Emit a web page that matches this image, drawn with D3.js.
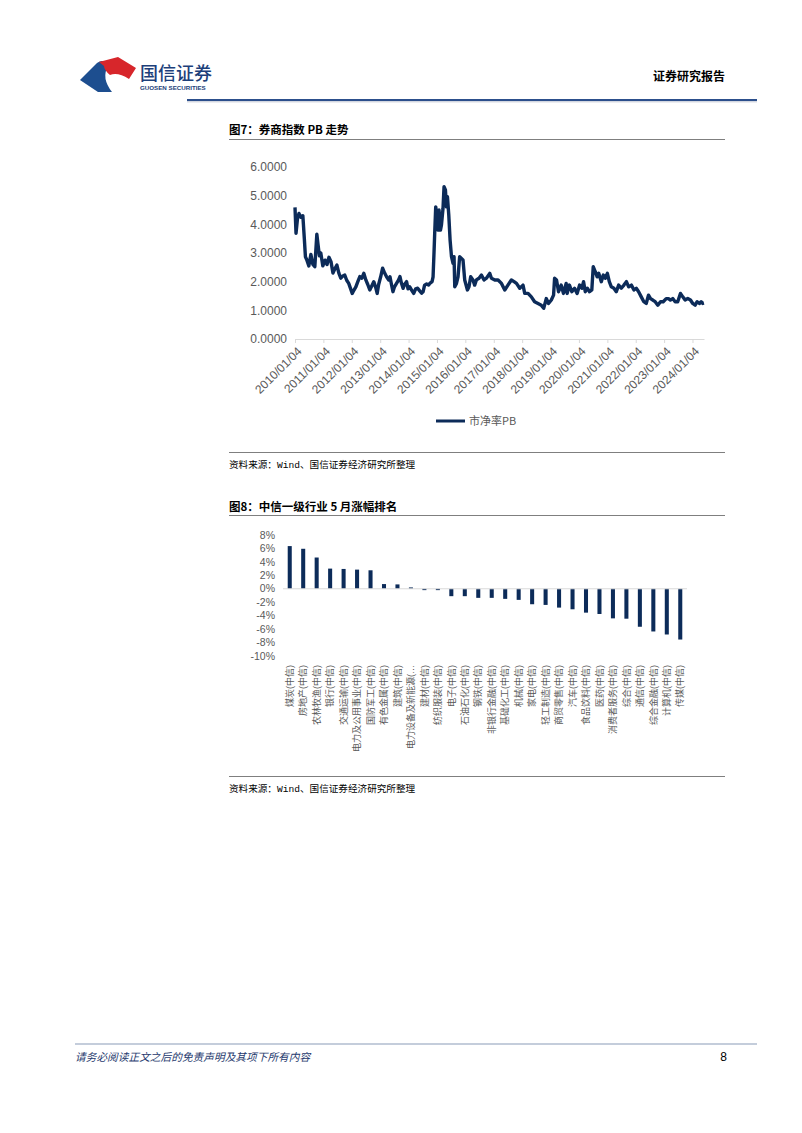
<!DOCTYPE html>
<html><head><meta charset="utf-8">
<script src="https://cdn.jsdelivr.net/npm/d3@7"></script>
<style>body{margin:0;background:#fff;} svg{display:block;}</style>
</head><body><svg id="c" width="802" height="1133"></svg>
<script>
const pbDates = ["2010-01-04","2010-01-17","2010-02-05","2010-02-24","2010-03-20","2010-04-15","2010-05-04","2010-05-18","2010-06-06","2010-07-01","2010-07-27","2010-08-22","2010-09-16","2010-10-12","2010-10-27","2010-11-14","2010-12-02","2010-12-28",
"2011-01-26","2011-02-20","2011-03-17","2011-04-12","2011-05-07","2011-06-01","2011-06-27","2011-07-22","2011-08-16","2011-09-11","2011-10-06","2011-10-31","2011-11-26","2011-12-21",
"2012-01-10","2012-01-31","2012-02-26","2012-03-22","2012-04-17","2012-05-13","2012-06-07","2012-07-03","2012-07-28","2012-08-23","2012-09-17","2012-10-13","2012-11-07","2012-11-26","2012-12-15",
"2013-01-10","2013-02-04","2013-03-02","2013-03-27","2013-04-22","2013-05-10","2013-05-29","2013-06-17","2013-07-07","2013-08-02","2013-08-27","2013-09-15","2013-10-04","2013-10-25","2013-11-13","2013-12-09","2013-12-28",
"2014-01-19","2014-02-14","2014-03-11","2014-04-05","2014-05-01","2014-05-27","2014-06-21","2014-07-10","2014-07-29","2014-08-24","2014-09-19","2014-10-04","2014-11-02","2014-11-15","2014-11-27","2014-12-06","2014-12-19",
"2015-01-05","2015-01-18","2015-01-31","2015-02-18","2015-03-03","2015-03-23","2015-04-05","2015-04-23","2015-05-06","2015-05-19","2015-06-05","2015-06-22","2015-07-10","2015-07-30","2015-08-12","2015-08-21","2015-09-12","2015-10-02","2015-10-23","2015-11-15","2015-12-05","2015-12-27",
"2016-01-31","2016-02-20","2016-03-13","2016-04-11","2016-05-03","2016-05-25","2016-06-28","2016-07-29","2016-09-01","2016-10-01","2016-11-13","2016-12-05",
"2017-01-17","2017-02-28","2017-04-13","2017-05-25","2017-07-05","2017-08-18","2017-09-22","2017-10-23","2017-12-04",
"2018-01-15","2018-02-06","2018-03-21","2018-05-02","2018-06-13","2018-07-27","2018-09-07","2018-10-08","2018-11-10","2018-12-09",
"2019-01-14","2019-02-12","2019-02-25","2019-03-22","2019-04-17","2019-05-21","2019-06-19","2019-07-24","2019-08-06","2019-09-04","2019-10-05","2019-11-09","2019-12-12",
"2020-01-13","2020-02-11","2020-03-04","2020-03-26","2020-04-21","2020-05-20","2020-06-18","2020-07-06","2020-08-01","2020-08-26","2020-09-15","2020-10-18","2020-11-13","2020-12-08",
"2021-01-04","2021-01-29","2021-02-24","2021-03-29","2021-04-29","2021-05-29","2021-07-02","2021-08-05","2021-09-06","2021-10-05","2021-11-09","2021-12-12",
"2022-01-11","2022-02-10","2022-03-16","2022-04-18","2022-05-19","2022-06-17","2022-07-13","2022-08-11","2022-09-11","2022-10-15","2022-11-19","2022-12-23",
"2023-01-31","2023-03-01","2023-03-26","2023-04-25","2023-05-26","2023-06-28","2023-08-02","2023-09-01","2023-10-01","2023-11-04","2023-12-09",
"2024-01-07","2024-02-07","2024-03-04","2024-04-02","2024-04-24","2024-05-14","2024-05-31"];
const pbValues = [4.59,3.69,4.20,4.38,4.25,4.30,3.50,2.87,2.75,2.55,2.95,2.60,2.52,3.66,3.30,2.90,3.00,2.55,
2.75,2.60,2.85,2.70,2.30,2.45,2.58,2.30,2.12,2.20,2.23,2.05,1.94,1.75,
1.59,1.70,1.82,2.00,2.18,2.12,2.29,2.06,1.90,1.71,1.85,2.00,1.80,1.59,1.90,
2.17,2.47,2.30,2.17,2.06,2.17,1.90,1.65,1.82,1.94,2.05,2.18,1.95,1.77,1.90,2.00,1.75,
1.82,1.70,1.59,1.75,1.77,1.68,1.60,1.65,1.88,1.92,1.88,1.94,2.00,2.17,3.00,3.69,4.61,
4.27,3.80,4.50,3.80,3.98,4.56,5.31,5.20,4.61,4.96,4.33,3.45,2.87,2.64,2.87,1.82,1.94,2.17,2.87,2.81,2.76,2.06,
1.71,1.82,2.17,2.06,1.88,2.06,2.12,2.23,2.06,2.12,2.29,2.12,
2.06,2.06,1.94,1.71,1.88,2.06,2.00,1.94,1.77,
1.88,1.59,1.59,1.47,1.30,1.24,1.18,1.07,1.41,1.24,
1.36,1.53,2.12,2.06,1.65,1.88,1.59,1.94,1.59,1.88,1.65,1.77,1.59,
1.88,1.77,2.00,1.65,1.77,1.65,1.71,2.52,2.35,2.17,2.29,2.00,2.23,2.12,
2.29,2.00,1.82,1.77,1.65,1.88,1.77,1.88,2.00,1.82,1.88,1.71,
1.77,1.65,1.47,1.30,1.24,1.53,1.41,1.36,1.30,1.18,1.30,1.30,
1.41,1.41,1.36,1.41,1.30,1.30,1.59,1.47,1.36,1.41,1.36,
1.24,1.18,1.30,1.24,1.30,1.24,1.25];
const pbTickLabels = ["2010/01/04","2011/01/04","2012/01/04","2013/01/04","2014/01/04","2015/01/04","2016/01/04","2017/01/04","2018/01/04","2019/01/04","2020/01/04","2021/01/04","2022/01/04","2023/01/04","2024/01/04"];
const pbYTicks = [0,1,2,3,4,5,6];
const pbSeriesName = "市净率PB";

const industries = ["煤炭(中信)","房地产(中信)","农林牧渔(中信)","银行(中信)","交通运输(中信)","电力及公用事业(中信)","国防军工(中信)","有色金属(中信)","建筑(中信)","电力设备及新能源(…","建材(中信)","纺织服装(中信)","电子(中信)","石油石化(中信)","钢铁(中信)","非银行金融(中信)","基础化工(中信)","机械(中信)","家电(中信)","轻工制造(中信)","商贸零售(中信)","汽车(中信)","食品饮料(中信)","医药(中信)","消费者服务(中信)","综合(中信)","通信(中信)","综合金融(中信)","计算机(中信)","传媒(中信)"];
const mayChange = [6.35,5.95,4.65,3.0,2.95,2.85,2.75,0.7,0.65,0.2,-0.2,-0.2,-1.1,-1.1,-1.35,-1.35,-1.5,-1.65,-2.3,-2.4,-2.8,-3.05,-3.55,-3.75,-4.4,-4.45,-5.65,-6.35,-6.8,-7.55];
const chgTicks = [-10,-8,-6,-4,-2,0,2,4,6,8];

const NAVY = "#0c2b59";
const GRAY = "#595959";
const LAT = "'Liberation Sans', Arial, 'Noto Sans CJK SC', sans-serif";
const CJK = "'Noto Sans CJK SC', 'Liberation Sans', sans-serif";

const svg = d3.select("#c");
svg.append("rect").attr("width",802).attr("height",1133).attr("fill","#fff");

// ---------- header ----------
const hdr = svg.append("g");
hdr.append("path").attr("d","M80,80 L97,63 Q104,58 108,66 Q101,78 112,92 L98,92 Z").attr("fill","#1d4e8f");
hdr.append("path").attr("d","M99,62 L118,57 L136,68 L129,79 Q118,72 110,75 Q104,70 104,66 Z").attr("fill","#d7262b");
hdr.append("text").attr("x",140).attr("y",80).attr("font-family",CJK).attr("font-size",18).attr("font-weight",500).attr("fill","#1d3f7a").text("国信证券");
hdr.append("text").attr("x",140).attr("y",90).attr("font-family",LAT).attr("font-size",6.2).attr("font-weight","bold").attr("fill","#1d3f7a").text("GUOSEN SECURITIES");
hdr.append("text").attr("x",725).attr("y",81).attr("text-anchor","end").attr("font-family",CJK).attr("font-size",12).attr("font-weight","bold").attr("fill","#000").text("证券研究报告");
hdr.append("line").attr("x1",187).attr("x2",757).attr("y1",100).attr("y2",100).attr("stroke","#2c4f8c").attr("stroke-width",2);
hdr.append("line").attr("x1",187).attr("x2",757).attr("y1",101.8).attr("y2",101.8).attr("stroke","#b0b8c8").attr("stroke-width",0.8);

function sectionTitle(y, txt){
  svg.append("text").attr("x",229).attr("y",y).attr("font-family",CJK).attr("font-size",11.5).attr("font-weight","bold").attr("fill","#000").text(txt);
}
function rule(y){
  svg.append("line").attr("x1",229).attr("x2",725).attr("y1",y).attr("y2",y).attr("stroke","#7f7f7f").attr("stroke-width",1);
}
function source(y){
  const t = svg.append("text").attr("x",229).attr("y",y).attr("font-family",CJK).attr("font-size",9.6).attr("fill","#000");
  t.append("tspan").text("资料来源：");
  t.append("tspan").attr("font-family","'Liberation Mono', monospace").text("Wind");
  t.append("tspan").text("、国信证券经济研究所整理");
}

// ---------- chart 1 ----------
sectionTitle(134, "图7：券商指数 PB 走势");
rule(139.5);

const parse = d3.timeParse("%Y-%m-%d");
const parseTick = d3.timeParse("%Y/%m/%d");
const pbData = pbDates.map((d,i)=>({date:parse(d), v:pbValues[i]}));
const x1 = d3.scaleTime().domain([parse("2010-01-04"), parse("2024-05-31")]).range([295,704]);
const y1 = d3.scaleLinear().domain([0,6]).range([339,167]);

const g1 = svg.append("g");
g1.selectAll("text.yl").data(pbYTicks).join("text").attr("class","yl")
  .attr("x",287).attr("y",d=>y1(d)).attr("dy","0.35em").attr("text-anchor","end")
  .attr("font-family",LAT).attr("font-size",12).attr("fill",GRAY).text(d=>d3.format(".4f")(d));

const xAxis1 = d3.axisBottom(x1).tickValues(pbTickLabels.map(parseTick)).tickFormat(d3.timeFormat("%Y/%m/%d")).tickSize(4).tickSizeOuter(0);
const ax = g1.append("g").attr("transform","translate(0,339)").call(xAxis1);
ax.select(".domain").attr("stroke","#d9d9d9");
ax.selectAll(".tick line").attr("stroke","#d9d9d9");
ax.selectAll(".tick text").attr("font-family",LAT).attr("font-size",12).attr("fill",GRAY)
  .attr("text-anchor","end").attr("dy",null).attr("y",0)
  .attr("transform","translate(7,13) rotate(-45)");

g1.append("path").datum(pbData).attr("fill","none").attr("stroke",NAVY).attr("stroke-width",3.4).attr("stroke-linejoin","round")
  .attr("d", d3.line().x(d=>x1(d.date)).y(d=>y1(d.v)));

// legend
g1.append("line").attr("x1",436).attr("x2",465).attr("y1",421).attr("y2",421).attr("stroke",NAVY).attr("stroke-width",3);
g1.append("text").attr("x",469).attr("y",421).attr("dy","0.35em").attr("font-family",CJK).attr("font-size",11).attr("fill",GRAY).text(pbSeriesName);

rule(452.5);
source(468);

// ---------- chart 2 ----------
sectionTitle(511, "图8：中信一级行业 5 月涨幅排名");
rule(515.5);

const x2 = d3.scaleBand().domain(industries).range([283,687]).paddingInner(0.7).paddingOuter(0.35);
const y2 = d3.scaleLinear().domain([-10,8]).range([656,535]);
const g2 = svg.append("g");
g2.selectAll("text.yl").data(chgTicks).join("text").attr("class","yl")
  .attr("x",275).attr("y",d=>y2(d)).attr("dy","0.35em").attr("text-anchor","end")
  .attr("font-family",LAT).attr("font-size",10.5).attr("fill",GRAY).text(d=>d+"%");
g2.selectAll("rect.bar").data(mayChange).join("rect").attr("class","bar")
  .attr("x",(d,i)=>x2(industries[i])).attr("width",x2.bandwidth())
  .attr("y",d=>y2(Math.max(0,d))).attr("height",d=>Math.abs(y2(d)-y2(0)))
  .attr("fill",NAVY);
g2.append("line").attr("x1",283).attr("x2",687).attr("y1",y2(0)).attr("y2",y2(0)).attr("stroke","#d9d9d9").attr("stroke-width",1);
g2.selectAll("text.xl").data(industries).join("text").attr("class","xl")
  .attr("transform",d=>`translate(${x2(d)+x2.bandwidth()/2+3.2},665) rotate(-90)`)
  .attr("text-anchor","end").attr("font-family",LAT).attr("font-size",9).attr("fill",GRAY).text(d=>d);

rule(776.5);
source(792);

// ---------- footer ----------
svg.append("line").attr("x1",75).attr("x2",757).attr("y1",1044).attr("y2",1044).attr("stroke","#8a9bb8").attr("stroke-width",1.2);
svg.append("text").attr("x",75).attr("y",1061).attr("font-family",CJK).attr("font-size",10.7).attr("font-style","italic").attr("fill","#1f3a6e").text("请务必阅读正文之后的免责声明及其项下所有内容");
svg.append("text").attr("x",727).attr("y",1061).attr("text-anchor","end").attr("font-family",LAT).attr("font-size",12).attr("fill","#000").text("8");
</script></body></html>
